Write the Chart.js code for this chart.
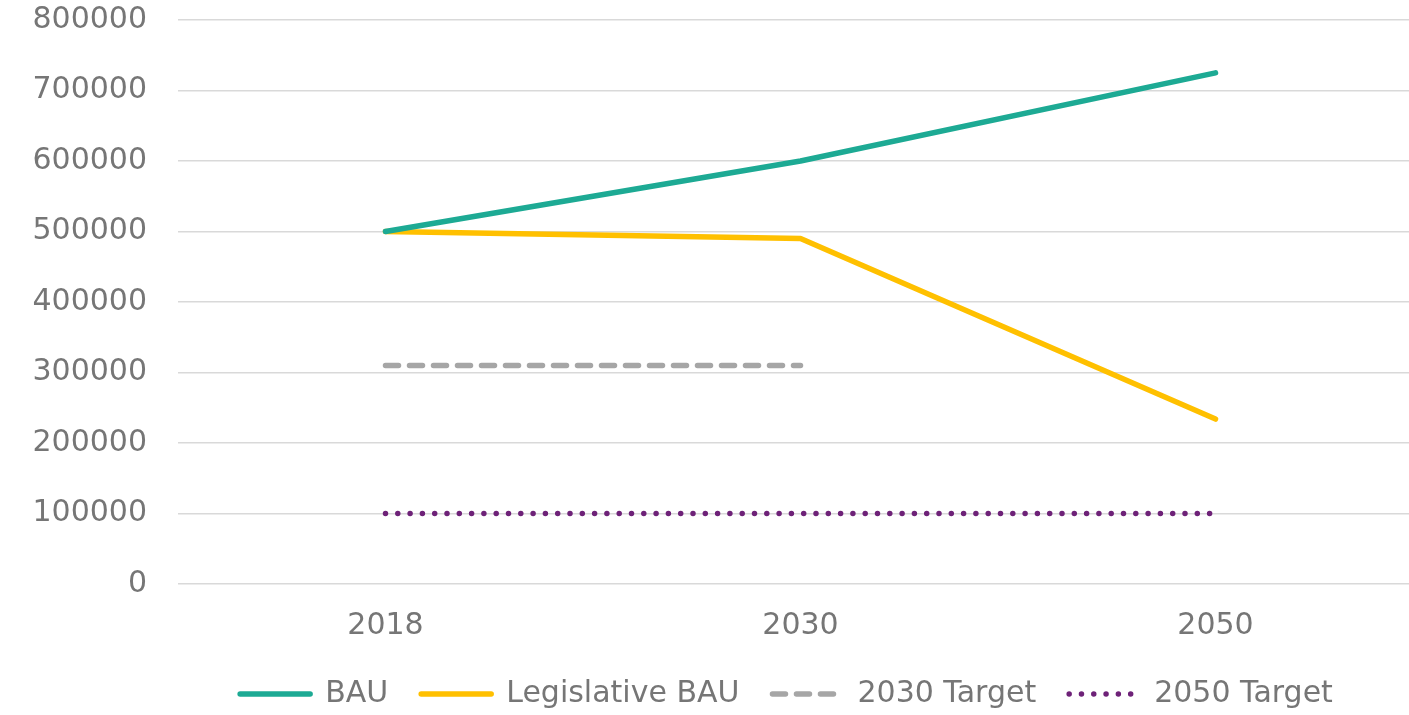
<!DOCTYPE html>
<html>
<head>
<meta charset="utf-8">
<script src="https://cdn.jsdelivr.net/npm/chart.js@4"></script>
<style>
  html, body { margin: 0; padding: 0; background: #fff; overflow: hidden; }
  #wrap { position: relative; width: 1424px; height: 715px; }
</style>
</head>
<body>
<div id="wrap"><canvas id="emissionsChart"></canvas></div>
<script>
// chart data
const years          = ['2018', '2030', '2050'];
const bau            = [500000, 600000, 725000];
const legislativeBau = [500000, 490000, 234000];
const target2030     = [310000, 310000, null];
const target2050     = [100000, 100000, 100000];
const yTicks         = [0, 100000, 200000, 300000, 400000, 500000, 600000, 700000, 800000];

const TEXT_COLOR = '#767676';
const FONT = { family: '"DejaVu Sans", sans-serif', size: 30 };

// nudge the legend to where the original sits
const legendShift = {
    id: 'legendShift',
    afterLayout(chart) {
        const lg = chart.legend;
        if (!lg) return;
        lg.left   += 75;
        lg.right  += 75;
        lg.top    += 4;
        lg.bottom += 4;
    }
};

function lineSet(label, data, color, dash) {
    return {
        label: label,
        data: data,
        borderColor: color,
        backgroundColor: color,
        borderWidth: 5.5,
        borderDash: dash || [],
        borderCapStyle: 'round',
        borderJoinStyle: 'round',
        pointRadius: 0,
        pointHoverRadius: 0,
        tension: 0,
        fill: false,
        spanGaps: false
    };
}

new Chart(document.getElementById('emissionsChart'), {
    type: 'line',
    data: {
        labels: years,
        datasets: [
            lineSet('BAU', bau, '#1DAA94'),
            lineSet('Legislative BAU', legislativeBau, '#FFC000'),
            lineSet('2030 Target', target2030, '#A6A6A6', [13, 11]),
            lineSet('2050 Target', target2050, '#6E2278', [0, 12.3])
        ]
    },
    options: {
        responsive: true,
        maintainAspectRatio: false,
        animation: false,
        layout: { padding: { left: 0, right: 1, top: 0, bottom: 0 } },
        plugins: {
            tooltip: { enabled: false },
            legend: {
                position: 'bottom',
                labels: {
                    color: TEXT_COLOR,
                    font: FONT,
                    usePointStyle: true,
                    pointStyle: 'line',
                    pointStyleWidth: 70,
                    boxHeight: 30,
                    padding: 33,
                    generateLabels: chart => {
                        const items = Chart.defaults.plugins.legend.labels.generateLabels(chart);
                        return items.map(it => {
                            const ds = chart.data.datasets[it.datasetIndex];
                            it.lineDash    = ds.borderDash;
                            it.lineCap     = 'round';
                            it.lineWidth   = ds.borderWidth;
                            it.strokeStyle = ds.borderColor;
                            it.pointStyle  = 'line';
                            return it;
                        });
                    }
                }
            }
        },
        scales: {
            x: {
                offset: true,
                grid: { display: false, drawTicks: false },
                border: { display: false },
                ticks: { color: TEXT_COLOR, font: FONT, padding: 24 },
                afterFit: axis => { axis.height = 58; }
            },
            y: {
                min: 0,
                max: 800000,
                afterBuildTicks: axis => { axis.ticks = yTicks.map(v => ({ value: v })); },
                afterFit: axis => {
                    axis.width = 178;
                    axis.paddingTop = 20;
                    axis.paddingBottom = 0;
                },
                grid: { color: '#D9D9D9', lineWidth: 1.5, drawTicks: false },
                border: { display: false },
                ticks: { color: TEXT_COLOR, font: FONT, padding: 31, callback: v => String(v) }
            }
        }
    },
    plugins: [legendShift]
});
</script>
</body>
</html>
